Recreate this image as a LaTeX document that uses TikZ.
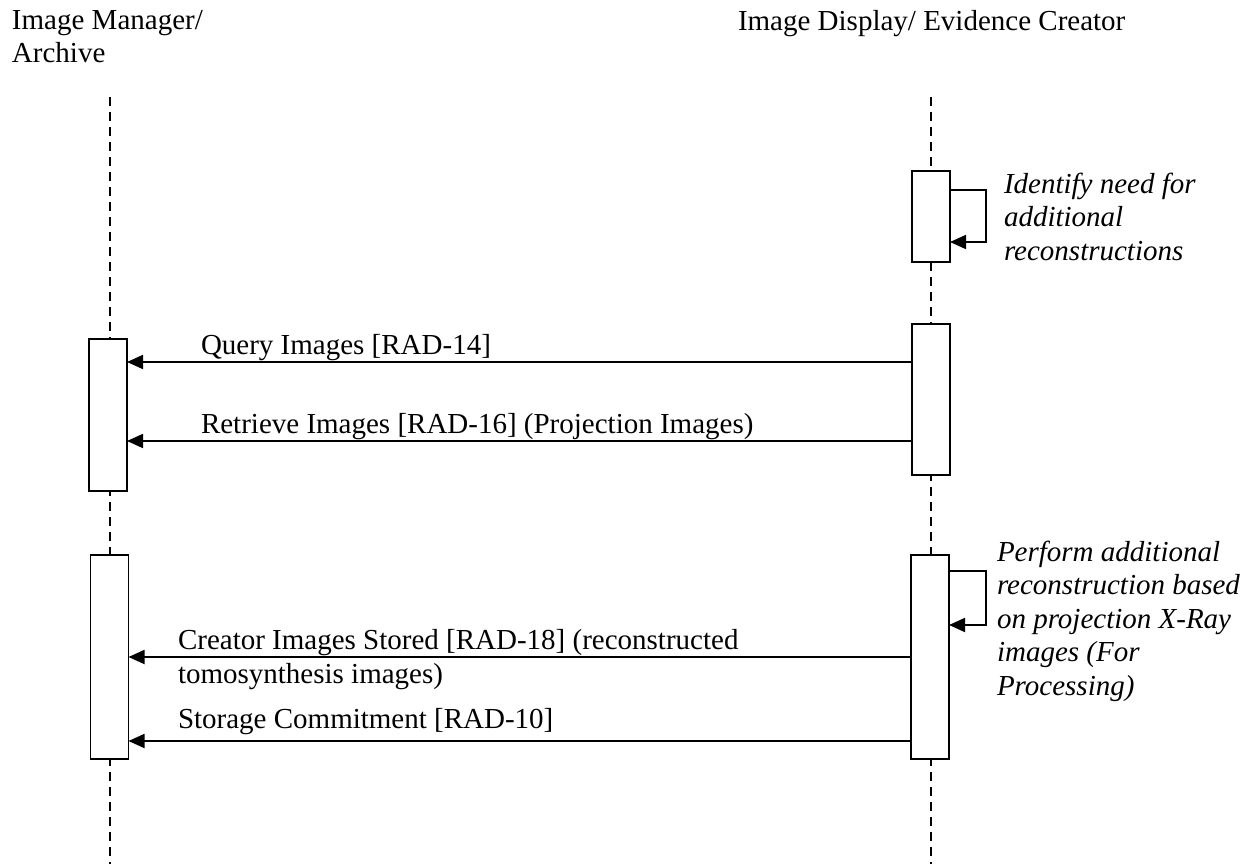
\documentclass[tikz,border=0pt]{standalone}
\usepackage{fontspec}
\setmainfont{Liberation Serif}
\usetikzlibrary{arrows.meta}
\begin{document}
\begin{tikzpicture}[x=1pt,y=-1pt,
  every node/.style={inner sep=0pt,outer sep=0pt},
  txt/.style={anchor=base west,font=\fontsize{29}{33.5}\selectfont,align=left},
  itxt/.style={txt,font=\fontsize{29}{33.5}\selectfont\itshape},
  life/.style={line width=1.4pt,dash pattern=on 9pt off 6pt},
  actbox/.style={draw,line width=1.8pt,fill=white,minimum width=38pt},
  msg/.style={line width=1.8pt,-{Triangle[length=16pt,width=14pt]}}]
\useasboundingbox (0,0) rectangle (1259,864);
% titles (base anchor = baseline of last line)
\node[txt] (tA) at (12,63) {Image Manager/\\Archive};
\node[txt] (tB) at (738,31) {Image Display/ Evidence Creator};
% lifelines
\coordinate (lAtop) at (110,97);
\coordinate (lAbot) at (110,864);
\coordinate (lBtop) at (931,97);
\coordinate (lBbot) at (931,864);
\draw[life] (lAtop) -- (lAbot);
\draw[life] (lBtop) -- (lBbot);
% activation boxes
\node[actbox,minimum height=91pt]  (rb1) at (931,216.5) {};
\node[actbox,minimum height=151pt] (rb2) at (931,399.5) {};
\node[actbox,minimum height=204pt] (rb3) at (930,657) {};
\node[actbox,minimum height=152pt] (lb1) at (108,415) {};
\node[actbox,minimum height=204pt] (lb2) at (109.5,657) {};
% self messages
\draw[msg] (rb1.east |- 0,190) -- ++(36,0) |- (rb1.east |- 0,242);
\draw[msg] (rb3.east |- 0,571) -- ++(37,0) |- (rb3.east |- 0,625);
\node[itxt] (n1) at (1004,260) {Identify need for\\additional\\reconstructions};
\node[itxt] (n2) at (997,695) {Perform additional\\reconstruction based\\on projection X-Ray\\images (For\\Processing)};
% messages
\draw[msg] (rb2.west |- 0,362) -- (lb1.east |- 0,362);
\node[txt] (m1) at (201,354) {Query Images [RAD-14]};
\draw[msg] (rb2.west |- 0,441) -- (lb1.east |- 0,441);
\node[txt] (m2) at (201,433) {Retrieve Images [RAD-16] (Projection Images)};
\draw[msg] (rb3.west |- 0,657) -- (lb2.east |- 0,657);
\node[txt] (m3) at (178,683) {Creator Images Stored [RAD-18] (reconstructed\\tomosynthesis images)};
\draw[msg] (rb3.west |- 0,741) -- (lb2.east |- 0,741);
\node[txt] (m4) at (178,728) {Storage Commitment [RAD-10]};
\end{tikzpicture}
\end{document}
